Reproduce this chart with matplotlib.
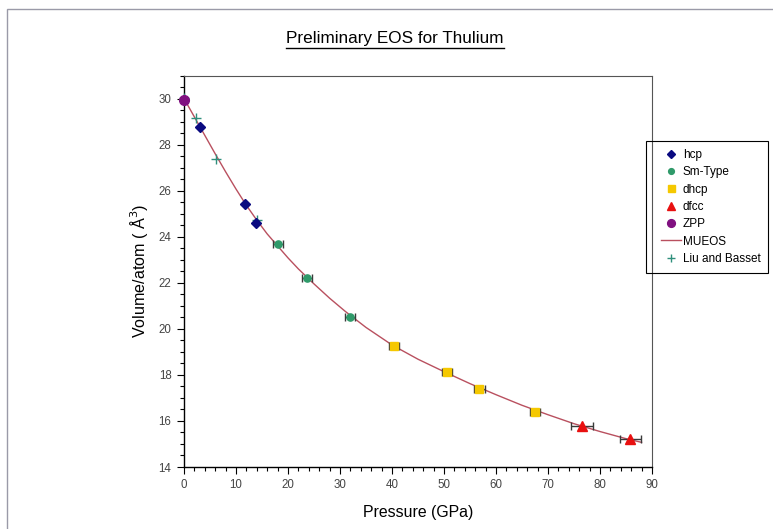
import numpy as np
import matplotlib
matplotlib.use("Agg")
import matplotlib.pyplot as plt
from matplotlib.ticker import MultipleLocator
from matplotlib.patches import Rectangle

plt.rcParams['font.family'] = ['Liberation Sans', 'DejaVu Sans']

# phases: pressure (GPa), volume/atom (A^3), pressure error
hcp_p = [3.1, 11.7, 13.9]
hcp_v = [28.75, 25.4, 24.58]

sm_p = [18.1, 23.6, 31.9]
sm_v = [23.7, 22.2, 20.52]
sm_err = [1.0, 1.0, 1.0]

dhcp_p = [40.4, 50.6, 56.8, 67.5]
dhcp_v = [19.27, 18.12, 17.4, 16.38]
dhcp_err = [1.0, 1.0, 1.0, 1.0]

dfcc_p = [76.6, 85.8]
dfcc_v = [15.76, 15.22]
dfcc_err = [2.1, 2.0]

zpp_p = [0.0]
zpp_v = [29.95]

liu_p = [0.0, 2.3, 6.15, 14.0]
liu_v = [30.02, 29.15, 27.37, 24.74]

# MUEOS curve
mueos_p = [0, 2, 4, 6, 8, 10, 12, 14, 16, 18, 20, 22, 25, 28, 31, 35,
           40, 45, 50, 55, 60, 65, 70, 75, 80, 85, 88]
mueos_v = [30.0, 29.2, 28.4, 27.6, 26.82, 26.07, 25.36, 24.72, 24.12, 23.6,
           23.08, 22.6, 21.95, 21.33, 20.76, 20.06, 19.3, 18.68, 18.14, 17.62,
           17.14, 16.68, 16.27, 15.88, 15.54, 15.23, 15.07]

fig = plt.figure(figsize=(7.73, 5.29), dpi=100)
ax = fig.add_axes([184 / 773, 1 - 467 / 529, (652 - 184) / 773, (467 - 75.5) / 529])

# outer chart border
fig.patches.append(Rectangle((7 / 773, -0.05), 1.0, 1 - 8.5 / 529 + 0.05,
                             transform=fig.transFigure, fill=False,
                             edgecolor='#9a9aa8', linewidth=1.0))

ax.plot(mueos_p, mueos_v, color='#b9505f', linewidth=1.0, label='MUEOS', zorder=2)

ebar_kw = dict(fmt='none', ecolor='#3a3a3a', elinewidth=1.0, capsize=3.2, capthick=1.0, zorder=3)
ax.errorbar(sm_p, sm_v, xerr=sm_err, **ebar_kw)
ax.errorbar(dhcp_p, dhcp_v, xerr=dhcp_err, **ebar_kw)
ax.errorbar(dfcc_p, dfcc_v, xerr=dfcc_err, **ebar_kw)

ax.plot(hcp_p, hcp_v, 'D', color='#0a0a80', markersize=4.6, label='hcp', zorder=4)
ax.plot(sm_p, sm_v, 'o', color='#2f9a6a', markersize=5.2, label='Sm-Type', zorder=4)
ax.plot(dhcp_p, dhcp_v, 's', color='#f5c800', markersize=6.3, label='dhcp', zorder=4)
ax.plot(dfcc_p, dfcc_v, '^', color='#e81010', markersize=7, label='dfcc', zorder=4)
ax.plot(liu_p, liu_v, '+', color='#2f8f7c', markersize=7, markeredgewidth=1.0,
        label='Liu and Basset', zorder=3, clip_on=False)
ax.plot(zpp_p, zpp_v, 'o', color='#801080', markersize=7, label='ZPP', zorder=5, clip_on=False)

ax.set_xlim(0, 90)
ax.set_ylim(14, 31)
ax.xaxis.set_major_locator(MultipleLocator(10))
ax.xaxis.set_minor_locator(MultipleLocator(2))
ax.set_yticks(np.arange(14, 31, 2))
ax.yaxis.set_minor_locator(MultipleLocator(0.5))
ax.tick_params(which='major', direction='out', length=5, width=0.8,
               labelsize=8.3, labelcolor='#444444', pad=4)
ax.tick_params(which='minor', direction='out', length=3, width=0.8)

for side in ['left', 'bottom']:
    ax.spines[side].set_color('black')
    ax.spines[side].set_linewidth(1.0)
for side in ['top', 'right']:
    ax.spines[side].set_color('#555555')
    ax.spines[side].set_linewidth(0.8)

ax.set_xlabel('Pressure (GPa)', fontsize=11.4, labelpad=10)
ax.set_ylabel('Volume/atom ( Å$^3$)', fontsize=11.6, labelpad=6)

# underlined title
title = fig.text(395 / 773, 1 - 39 / 529, 'Preliminary EOS for Thulium',
                 ha='center', va='center', fontsize=12.3)
fig.canvas.draw()
bb = title.get_window_extent().transformed(fig.transFigure.inverted())
fig.add_artist(plt.Line2D([bb.x0, bb.x1], [bb.y0 - 0.002, bb.y0 - 0.002],
                          transform=fig.transFigure, color='black', linewidth=1.0))

# legend: box drawn by hand so the entries can sit like in the original
fig.patches.append(Rectangle((646 / 773, 1 - 273 / 529), (768 - 646) / 773, (273 - 141) / 529,
                             transform=fig.transFigure, fill=False,
                             edgecolor='black', linewidth=0.8))
handles, labels = ax.get_legend_handles_labels()
order = ['hcp', 'Sm-Type', 'dhcp', 'dfcc', 'ZPP', 'MUEOS', 'Liu and Basset']
h = [handles[labels.index(n)] for n in order]
leg = fig.legend(h, order, loc='upper left', bbox_to_anchor=(661 / 773, 1 - 149 / 529),
                 fontsize=8.5, frameon=False,
                 handlelength=1.7, handletextpad=0.15, labelspacing=0.45,
                 borderpad=0, borderaxespad=0, markerscale=0.8)

fig.savefig('out.png', dpi=100)
